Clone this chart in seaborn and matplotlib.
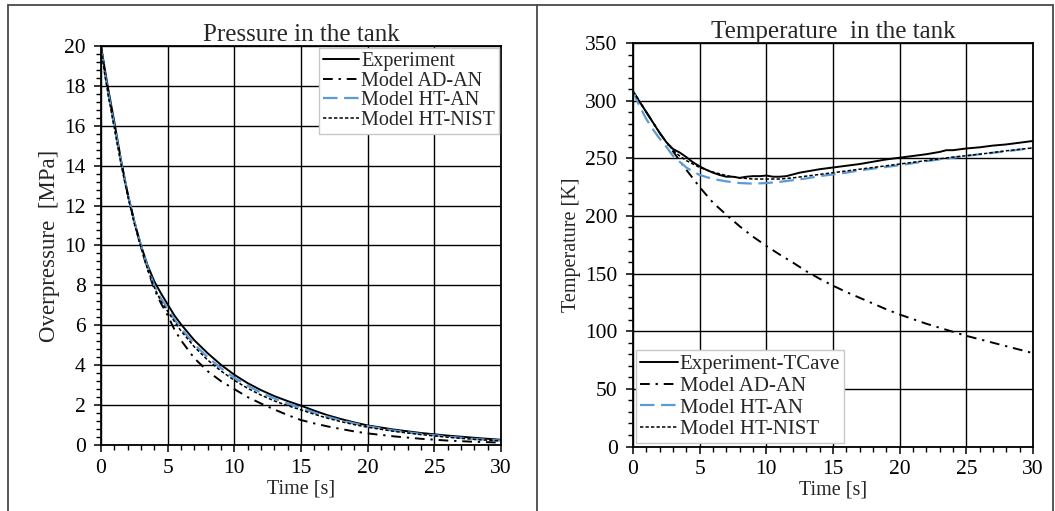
import matplotlib
matplotlib.use("Agg")
import matplotlib.pyplot as plt
from matplotlib.lines import Line2D
from matplotlib.ticker import MultipleLocator
import seaborn as sns

# ---------------- data ----------------
# Pressure in the tank [MPa]
p_time = [0, 0.5, 1, 1.5, 2, 2.5, 3, 3.5, 4, 4.5, 5, 5.5, 6, 7, 8, 9, 10, 11, 12,
          13, 14, 15, 16, 17, 18, 19, 20, 22, 24, 26, 28, 30]
p_experiment = [20.0, 18.0, 16.2, 14.3, 12.6, 11.2, 10.0, 9.0, 8.2, 7.6, 7.05, 6.5, 6.05,
                5.25, 4.6, 4.02, 3.52, 3.1, 2.75, 2.45, 2.2, 1.97, 1.72, 1.49, 1.3, 1.13,
                0.98, 0.77, 0.6, 0.47, 0.36, 0.26]
p_ad_an = [20.0, 17.8, 16.0, 14.2, 12.6, 11.2, 9.9, 8.8, 7.8, 7.1, 6.5, 5.8, 5.25,
           4.35, 3.7, 3.2, 2.8, 2.4, 2.08, 1.78, 1.5, 1.25, 1.08, 0.93, 0.8, 0.68,
           0.58, 0.43, 0.31, 0.22, 0.16, 0.12]
p_ht_an = [19.8, 17.8, 16.0, 14.2, 12.6, 11.2, 10.0, 8.9, 8.0, 7.35, 6.85, 6.3, 5.85,
           5.05, 4.4, 3.85, 3.37, 2.97, 2.62, 2.33, 2.08, 1.86, 1.62, 1.41, 1.23, 1.08,
           0.94, 0.72, 0.55, 0.42, 0.3, 0.22]
p_ht_nist = [19.8, 17.7, 15.9, 14.1, 12.5, 11.1, 9.9, 8.8, 7.9, 7.2, 6.7, 6.2, 5.72,
             4.92, 4.26, 3.71, 3.24, 2.84, 2.5, 2.21, 1.97, 1.76, 1.54, 1.34, 1.17, 1.02,
             0.89, 0.68, 0.52, 0.39, 0.28, 0.2]

# Temperature in the tank [K]
t_exp_time = [0, 0.5, 1, 1.5, 2, 2.5, 3, 3.5, 4, 4.5, 5, 5.5, 6, 6.5, 7, 7.5, 8, 8.5,
              9, 9.5, 10, 10.5, 11, 11.5, 12, 12.5, 13, 14, 15, 16, 17, 18, 19, 20,
              21, 22, 23, 23.5, 24, 25, 26, 27, 28, 29, 30]
t_experiment = [308, 299, 290, 281, 272, 264, 258, 255, 251, 246.5, 243, 240, 237.5,
                235.5, 234, 234, 233, 234, 234.5, 234.5, 235, 234, 234, 234.5, 236,
                237.5, 238.5, 240.5, 242, 243.5, 245, 247, 249, 250.5, 252, 253.5,
                255.5, 257, 257, 258.5, 259.5, 261, 262, 263.5, 265]

t_ad_time = list(range(0, 31))
t_ad_an = [308, 290, 272, 256, 240, 225, 211.5, 201, 191, 182, 174, 166.5, 159.5, 152,
           145.5, 139.5, 134, 129, 124, 119, 114.5, 110.5, 106.5, 103, 99.5, 96, 93,
           90, 87, 84, 81]

t_model_time = [0, 0.5, 1, 1.5, 2, 2.5, 3, 3.5, 4, 4.5, 5, 6, 7, 8, 9, 10, 11, 12, 13,
                14, 15, 16, 17, 18, 19, 20, 22, 24, 26, 28, 30]
t_ht_an = [308, 295, 284, 275, 267, 260, 252, 247, 242, 238.5, 235.5, 232, 230, 228.5,
           228, 228.5, 229.5, 231, 232.5, 234.5, 236, 237.5, 239.5, 241, 242.5, 244,
           247.5, 250.5, 253.5, 256, 259]
t_ht_nist = [308, 299, 290, 281, 272, 264, 257, 252, 248, 245, 242, 238, 235, 233, 232,
             232, 232, 233, 234.5, 236, 237.5, 239, 240.5, 242, 243.5, 245, 248, 251,
             253.5, 256.5, 259]

# ---------------- styling ----------------
sns.set_style("ticks")
plt.rcParams["font.family"] = ["Liberation Serif", "DejaVu Serif"]

BLUE = "#5B9BD5"
styles = {
    "exp": dict(color="black", linewidth=1.4, linestyle="-"),
    "ad": dict(color="black", linewidth=1.4, linestyle=(0, (5, 3, 1.2, 3))),
    "ht": dict(color=BLUE, linewidth=1.6, linestyle=(0, (6.5, 3))),
    "nist": dict(color="black", linewidth=1.1, linestyle=(0, (2.2, 1.4))),
}

fig = plt.figure(figsize=(10.55, 5.11), dpi=100)
ax1 = fig.add_axes([0.0957, 0.1292, 0.3792, 0.7808])
ax2 = fig.add_axes([0.6000, 0.1262, 0.3791, 0.7897])


def draw(ax, x, y, key, label):
    sns.lineplot(x=x, y=y, ax=ax, label=label, legend=False, estimator=None,
                 sort=False, **styles[key])


draw(ax1, p_time, p_experiment, "exp", "Experiment")
draw(ax1, p_time, p_ad_an, "ad", "Model AD-AN")
draw(ax1, p_time, p_ht_an, "ht", "Model HT-AN")
draw(ax1, p_time, p_ht_nist, "nist", "Model HT-NIST")

draw(ax2, t_exp_time, t_experiment, "exp", "Experiment-TCave")
draw(ax2, t_ad_time, t_ad_an, "ad", "Model AD-AN")
draw(ax2, t_model_time, t_ht_an, "ht", "Model HT-AN")
draw(ax2, t_model_time, t_ht_nist, "nist", "Model HT-NIST")


def style_axes(ax, ymax, ymajor, yminor, title, ylabel, ylabel_size):
    ax.set_xlim(0, 30)
    ax.set_ylim(0, ymax)
    ax.xaxis.set_major_locator(MultipleLocator(5))
    ax.xaxis.set_minor_locator(MultipleLocator(1))
    ax.yaxis.set_major_locator(MultipleLocator(ymajor))
    ax.yaxis.set_minor_locator(MultipleLocator(yminor))
    ax.grid(True, which="major", color="black", linewidth=1.0)
    ax.set_axisbelow(True)
    for s in ax.spines.values():
        s.set_visible(True)
        s.set_color("black")
        s.set_linewidth(1.3)
    ax.tick_params(which="major", direction="out", length=5, width=1.1,
                   labelsize=15.5, pad=6, colors="black")
    ax.tick_params(axis="x", which="major", pad=5)
    ax.tick_params(which="minor", direction="out", length=3.5, width=1.0,
                   colors="black")
    ax.set_title(title, fontsize=18, pad=3)
    ax.set_xlabel("Time [s]", fontsize=14.5, labelpad=1)
    ax.set_ylabel(ylabel, fontsize=ylabel_size, labelpad=3)


style_axes(ax1, 20, 2, 0.4, "Pressure in the tank", "Overpressure  [MPa]", 16.5)
style_axes(ax2, 350, 50, 10, "Temperature  in the tank", "Temperature [K]", 14.5)

leg_kw = dict(handlelength=1.8, handletextpad=0.1, borderpad=0.2, fancybox=False,
              framealpha=1.0, edgecolor="#c8c8c8")
leg1 = ax1.legend(loc="upper right", fontsize=14.5, labelspacing=0.02,
                  borderaxespad=0.1, **leg_kw)
leg2 = ax2.legend(loc="lower left", fontsize=15, labelspacing=0.1,
                  borderaxespad=0.15, **leg_kw)
for leg in (leg1, leg2):
    leg.get_frame().set_linewidth(1.0)

# panel frame lines
frame = dict(color="#4a4a4a", linewidth=1.3, transform=fig.transFigure)
fig.add_artist(Line2D([0.0076, 0.998], [0.990, 0.990], **frame))
for xf in (0.0076, 0.509, 0.998):
    fig.add_artist(Line2D([xf, xf], [0.0, 0.990], **frame))

fig.savefig("out.png", dpi=100)
